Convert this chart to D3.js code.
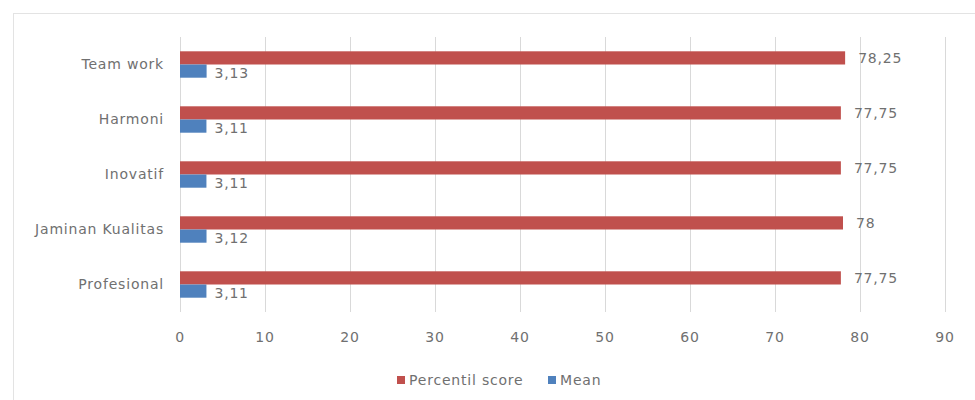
<!DOCTYPE html>
<html>
<head>
<meta charset="utf-8">
<script src="https://cdn.jsdelivr.net/npm/d3@7"></script>
<style>
  body { margin: 0; background: #fff; }
  text { font-family: "DejaVu Sans", "Open Sans", sans-serif; }
</style>
</head>
<body>
<div id="chart"></div>
<script>
const categories = ['Team work', 'Harmoni', 'Inovatif', 'Jaminan Kualitas', 'Profesional']
const percentil = [78.25, 77.75, 77.75, 78, 77.75]
const percentilLabels = ['78,25', '77,75', '77,75', '78', '77,75']
const mean = [3.13, 3.11, 3.11, 3.12, 3.11]
const meanLabels = ['3,13', '3,11', '3,11', '3,12', '3,11']
const xTicks = [0, 10, 20, 30, 40, 50, 60, 70, 80, 90]
const seriesNames = ['Percentil score', 'Mean']

const width = 975
const height = 400
const margin = {top: 37, right: 28, bottom: 88, left: 180}
const red = '#c0504d'
const blue = '#4f81bd'
const textColor = '#707070'

const svg = d3.create('svg')
  .attr('width', width)
  .attr('height', height)
  .attr('font-size', 14)
  .attr('letter-spacing', 0.8)

document.getElementById('chart').appendChild(svg.node())

// outer frame
svg.append('rect')
  .attr('x', 13.5).attr('y', 13.5)
  .attr('width', width).attr('height', height)
  .attr('fill', 'none')
  .attr('stroke', '#e3e3e3')

const x = d3.scaleLinear()
  .domain([0, 90])
  .range([margin.left, margin.left + 90 * 8.5])

const y = d3.scaleBand()
  .domain(categories)
  .range([margin.top, height - margin.bottom])
  .paddingInner(0.52)
  .paddingOuter(0.26)

const sub = d3.scaleBand()
  .domain(seriesNames)
  .range([0, y.bandwidth()])

// gridlines
svg.append('g')
  .selectAll('line')
  .data(xTicks)
  .join('line')
    .attr('x1', d => Math.round(x(d)) + 0.5)
    .attr('x2', d => Math.round(x(d)) + 0.5)
    .attr('y1', margin.top)
    .attr('y2', height - margin.bottom)
    .attr('stroke', '#d9d9d9')

// x tick labels
svg.append('g')
  .selectAll('text')
  .data(xTicks)
  .join('text')
    .attr('x', d => x(d))
    .attr('y', 337)
    .attr('dy', '0.35em')
    .attr('text-anchor', 'middle')
    .attr('fill', textColor)
    .text(d => d)

// category labels
svg.append('g')
  .selectAll('text')
  .data(categories)
  .join('text')
    .attr('x', margin.left - 16)
    .attr('y', d => y(d) + y.bandwidth() / 2)
    .attr('dy', '0.35em')
    .attr('text-anchor', 'end')
    .attr('fill', textColor)
    .text(d => d)

const rows = categories.map((c, i) => ({
  cat: c, p: percentil[i], pl: percentilLabels[i], m: mean[i], ml: meanLabels[i]
}))

// red bars
svg.append('g')
  .selectAll('rect')
  .data(rows)
  .join('rect')
    .attr('x', x(0))
    .attr('y', d => y(d.cat) + sub('Percentil score'))
    .attr('width', d => x(d.p) - x(0))
    .attr('height', sub.bandwidth())
    .attr('fill', red)

// blue bars
svg.append('g')
  .selectAll('rect')
  .data(rows)
  .join('rect')
    .attr('x', x(0))
    .attr('y', d => y(d.cat) + sub('Mean'))
    .attr('width', d => x(d.m) - x(0))
    .attr('height', sub.bandwidth())
    .attr('fill', blue)

// value labels
svg.append('g')
  .selectAll('text')
  .data(rows)
  .join('text')
    .attr('x', d => x(d.p) + 13)
    .attr('y', d => y(d.cat) + sub('Percentil score') + sub.bandwidth() / 2)
    .attr('dy', '0.35em')
    .attr('fill', textColor)
    .text(d => d.pl)

svg.append('g')
  .selectAll('text')
  .data(rows)
  .join('text')
    .attr('x', d => x(d.m) + 8)
    .attr('y', d => y(d.cat) + sub('Mean') + sub.bandwidth() / 2 + 2)
    .attr('dy', '0.35em')
    .attr('fill', textColor)
    .text(d => d.ml)

// legend
const legend = svg.append('g')
  .selectAll('g')
  .data(seriesNames)
  .join('g')
    .attr('transform', (d, i) => `translate(${i === 0 ? 397 : 548}, 380)`)

legend.append('rect')
  .attr('x', 0).attr('y', -4)
  .attr('width', 8).attr('height', 8)
  .attr('fill', (d, i) => i === 0 ? red : blue)

legend.append('text')
  .attr('x', 12)
  .attr('dy', '0.35em')
  .attr('fill', textColor)
  .text(d => d)
</script>
</body>
</html>
